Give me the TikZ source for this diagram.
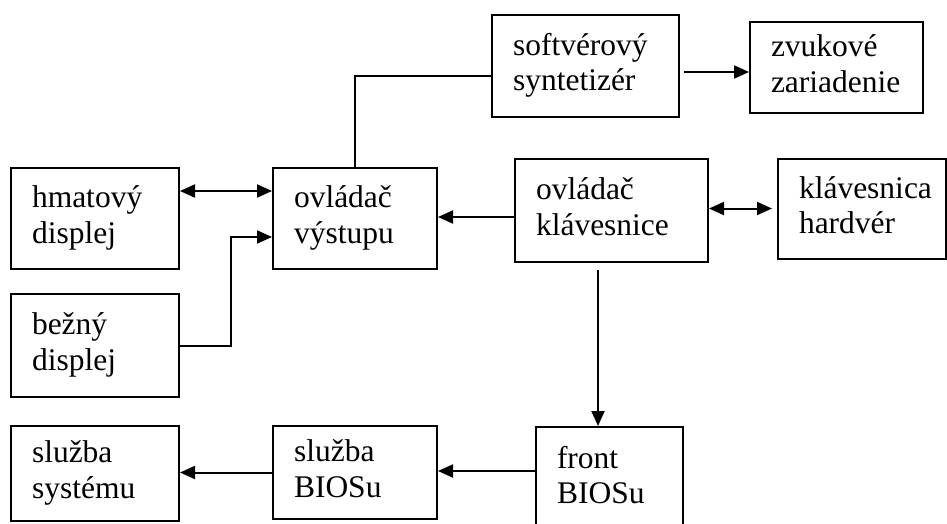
\documentclass[tikz,border=0pt]{standalone}
\usepackage{fontspec}
\setmainfont{Liberation Serif}
\usetikzlibrary{arrows.meta}

\begin{document}
\begin{tikzpicture}[x=1pt, y=-1pt,
    blok/.style={draw, line width=2pt, inner xsep=21pt, inner ysep=0pt,
      align=left, font={\fontsize{31.5}{35.5}\selectfont\hyphenpenalty10000\relax},
      execute at begin node={\strut},
      execute at end node={\strut}},
    sipka/.style={line width=2pt, -{Triangle[length=15pt,width=13pt]}},
    dvojsipka/.style={line width=2pt,
      {Triangle[length=15pt,width=13pt]}-{Triangle[length=15pt,width=13pt]}}]

  \useasboundingbox (0,0) rectangle (947,523);
  \clip (0,0) rectangle (947,523);

  \node[blok, text width=145pt, minimum height=102pt] (soft) at (585.5,66) {softvérový\\syntetizér};
  \node[blok, text width=131pt, minimum height=91pt] (zvuk) at (836.5,67.5) {zvukové\\zariadenie};

  \node[blok, text width=126pt, minimum height=101pt] (hmat) at (95,218.5) {hmatový\\displej};
  \node[blok, text width=122pt, minimum height=101pt] (vystup) at (355,218.5) {ovládač\\výstupu};
  \node[blok, text width=151pt, minimum height=103pt] (klav) at (611.5,210.5) {ovládač\\klávesnice};
  \node[blok, text width=126pt, minimum height=100pt] (hw) at (862,209) {klávesnica\\hardvér};

  \node[blok, text width=126pt, minimum height=103pt] (bezny) at (95,345.5) {bežný\\displej};

  \node[blok, text width=126pt, minimum height=95pt] (sys) at (95,473.5) {služba\\systému};
  \node[blok, text width=122pt, minimum height=93pt] (bios) at (355,472.5) {služba\\BIOSu};
  \node[blok, text width=105pt, minimum height=104pt] (front) at (609.5,479) {front\\BIOSu};

  \draw[line width=2pt] (vystup.north) |- ([yshift=-10pt]soft.west);
  \draw[sipka] ([xshift=4pt,yshift=-6pt]soft.east) -- ([yshift=-6pt]soft.east -| zvuk.west);

  \draw[dvojsipka] ([yshift=27.5pt]hmat.east) -- ([yshift=27.5pt]hmat.east -| vystup.west);
  \draw[sipka] (bezny.east) -- ++(51,0) |- ([yshift=-18.5pt]vystup.west);
  \draw[sipka] ([yshift=-6.5pt]klav.west) -- ([yshift=-6.5pt]klav.west -| vystup.east);
  \draw[dvojsipka] ([yshift=2pt]klav.east) -- ([xshift=-5pt,yshift=2pt]klav.east -| hw.west);

  \draw[sipka] ([xshift=-13.5pt,yshift=-7pt]klav.south) -- ([xshift=-13.5pt]klav.south |- front.north);
  \draw[sipka] ([yshift=8pt]front.west) -- ([yshift=8pt]front.west -| bios.east);
  \draw[sipka] (bios.west) -- (bios.west -| sys.east);

\end{tikzpicture}
\end{document}
